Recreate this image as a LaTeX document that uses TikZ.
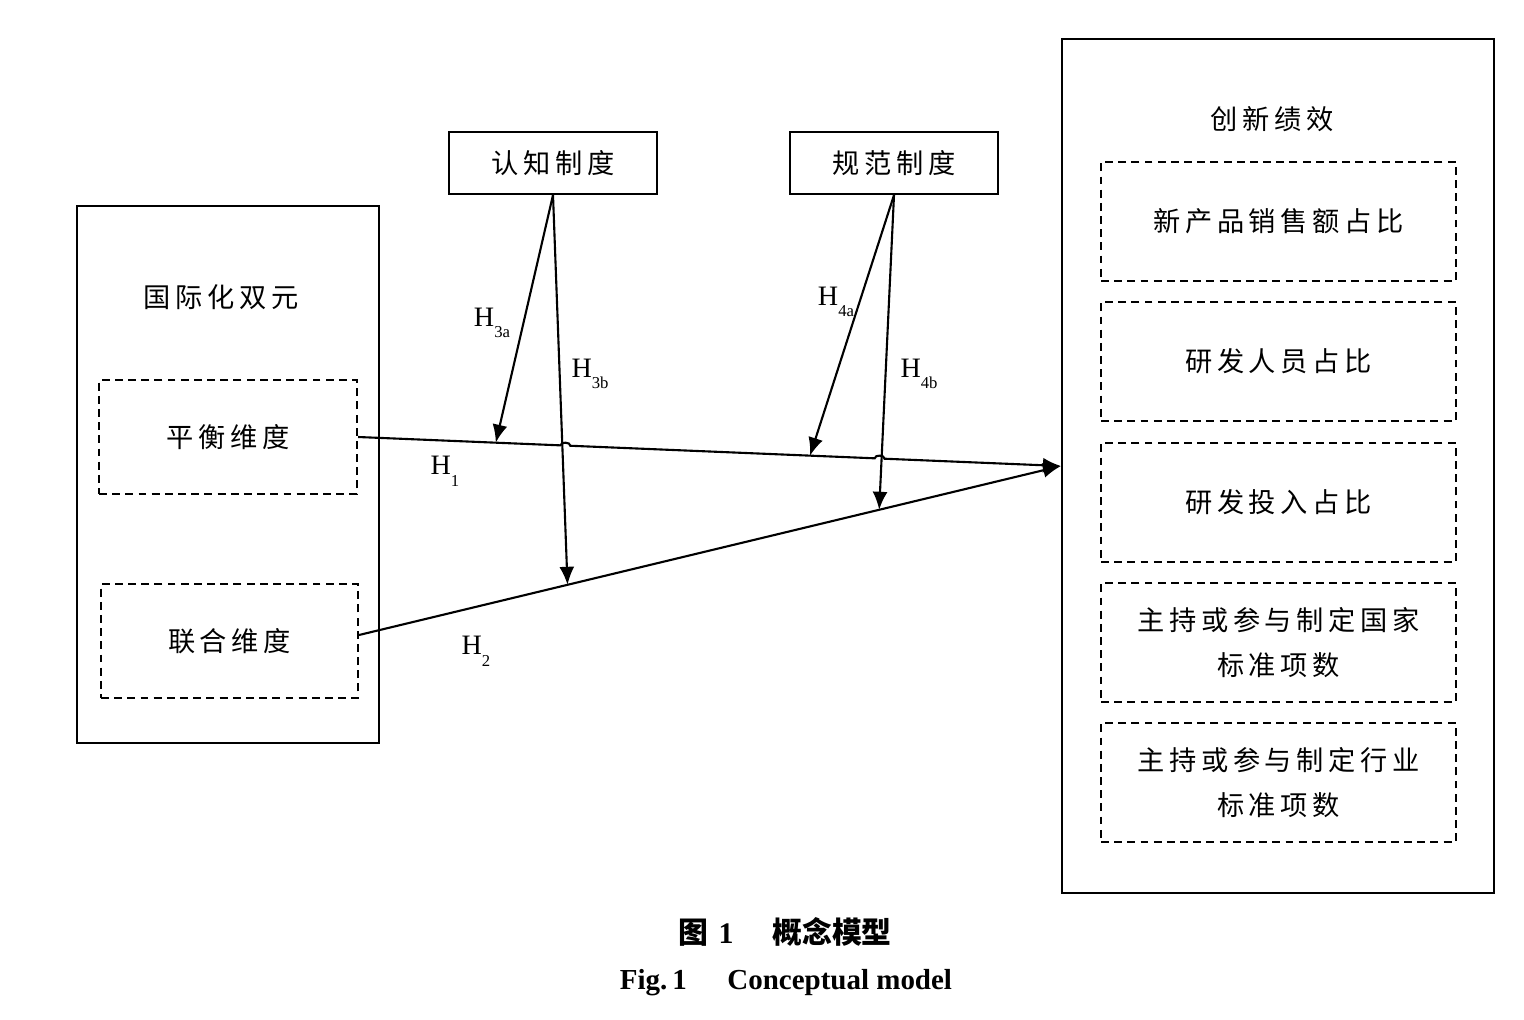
\documentclass[tikz,border=0pt]{standalone}
\usepackage{fontspec}
\setmainfont{Liberation Serif}
\newfontfamily\cjk[LetterSpace=17]{Noto Sans CJK SC}
\newfontfamily\cjkcap{Noto Sans CJK SC}
\usetikzlibrary{arrows.meta,calc}
\newcommand{\hyp}[1]{H\raisebox{-0.9ex}{\fontsize{9.5}{9.5}\selectfont #1}}

\begin{document}
\begin{tikzpicture}[x=0.02cm, y=-0.02cm,
  outer/.style={draw, line width=1.2pt, inner sep=0pt},
  cjktext/.style={font=\cjk\fontsize{15.5}{25.5}\selectfont, align=center},
  dashbox/.style={draw, dash pattern=on 4.5pt off 3pt, line width=1.2pt,
    minimum width=7.1cm, minimum height=2.38cm, cjktext},
  arr/.style={-{Latex[length=0.36cm,width=0.3cm]}, line width=1.2pt},
  hlab/.style={font=\fontsize{16}{16}\selectfont}]
\useasboundingbox (0,0) rectangle (1524,1020);

\node[outer, minimum width=6.04cm, minimum height=10.74cm] (dual) at (228,474.5) {};
\node[cjktext] (dualt) at (221,297) {国际化双元};
\node[dashbox, minimum width=5.16cm, minimum height=2.28cm] (bal) at (228,437) {平衡维度};
\node[dashbox, minimum width=5.14cm, minimum height=2.28cm] (joint) at (229.5,641) {联合维度};

\node[outer, cjktext, minimum width=4.16cm, minimum height=1.24cm] (cog) at (553,163) {认知制度};
\node[outer, cjktext, minimum width=4.16cm, minimum height=1.24cm] (norm) at (894,163) {规范制度};

\node[outer, minimum width=8.64cm, minimum height=17.08cm] (perf) at (1278,466) {};
\node[cjktext] (perft) at (1272,119) {创新绩效};
\node[dashbox] (m1) at (1278.5,221.5) {新产品销售额占比};
\node[dashbox] (m2) at (1278.5,361.5) {研发人员占比};
\node[dashbox] (m3) at (1278.5,502.5) {研发投入占比};
\node[dashbox] (m4) at (1278.5,642.5) {主持或参与制定国家\\标准项数};
\node[dashbox] (m5) at (1278.5,782.5) {主持或参与制定行业\\标准项数};

\coordinate (h2s) at ([yshift=0.12cm]joint.east);
\coordinate (a3) at ($(bal.east)!0.196!(perf.west)$);
\coordinate (a4) at ($(bal.east)!0.643!(perf.west)$);
\coordinate (b3) at ($(h2s)!0.297!(perf.west)$);
\coordinate (b4) at ($(h2s)!0.741!(perf.west)$);

\draw[arr] (bal.east) -- ($(bal.east)!0.288!(perf.west)$)
  to[bend left=90] ($(bal.east)!0.302!(perf.west)$)
  -- ($(bal.east)!0.735!(perf.west)$)
  to[bend left=90] ($(bal.east)!0.749!(perf.west)$) -- (perf.west);
\draw[arr] (h2s) -- (perf.west);
\draw[arr] (cog.south) -- (a3);
\draw[arr] (cog.south) -- (b3);
\draw[arr] (norm.south) -- (a4);
\draw[arr] (norm.south) -- (b4);

\node[hlab] (l1) at (445,471) {\hyp{1}};
\node[hlab] (l2) at (476,651) {\hyp{2}};
\node[hlab] (l3a) at (492,323) {\hyp{3a}};
\node[hlab] (l3b) at (590,374) {\hyp{3b}};
\node[hlab] (l4a) at (836,302) {\hyp{4a}};
\node[hlab] (l4b) at (919,374) {\hyp{4b}};

\node[font=\cjkcap\bfseries\fontsize{17}{17}\selectfont] (cap1) at (785,932)
  {图\hspace{0.35em}{\rmfamily 1}\hspace{1.3em}概念模型};
\node[font=\bfseries\fontsize{16.5}{16.5}\selectfont] (cap2) at (786,983)
  {Fig.\,1\hspace{1.4em}Conceptual\ model};
\end{tikzpicture}
\end{document}
